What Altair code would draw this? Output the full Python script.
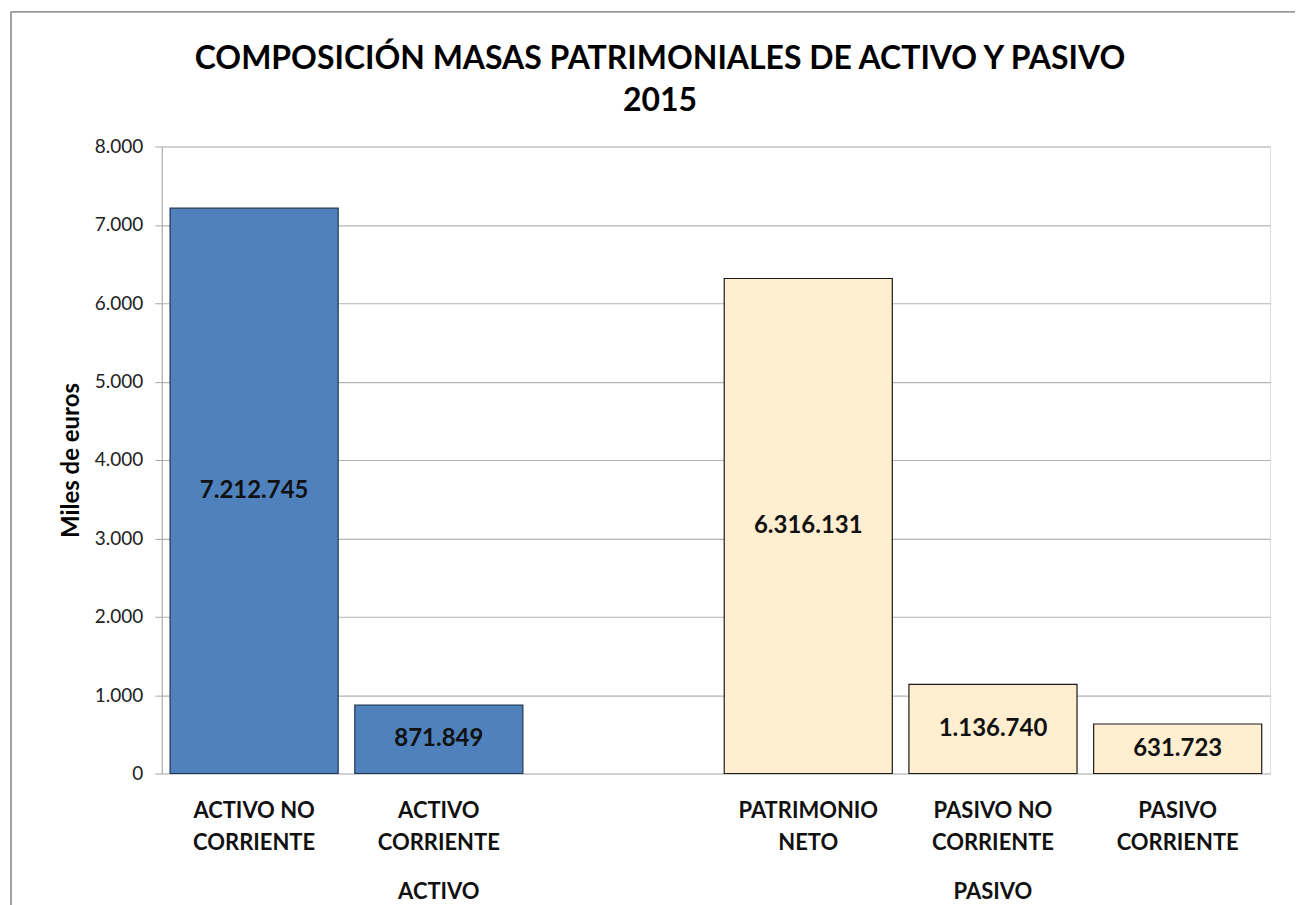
import altair as alt
import pandas as pd

categories = ["ACTIVO NO CORRIENTE", "ACTIVO CORRIENTE", "PATRIMONIO NETO",
              "PASIVO NO CORRIENTE", "PASIVO CORRIENTE"]
cat_labels = ["ACTIVO NO\nCORRIENTE", "ACTIVO\nCORRIENTE", "PATRIMONIO\nNETO",
              "PASIVO NO\nCORRIENTE", "PASIVO\nCORRIENTE"]
groups = ["ACTIVO", "ACTIVO", "PASIVO", "PASIVO", "PASIVO"]
values = [7212745, 871849, 6316131, 1136740, 631723]

group_names = ["ACTIVO", "PASIVO"]
group_anchor = ["ACTIVO CORRIENTE", "PASIVO NO CORRIENTE"]

title_lines = ["COMPOSICIÓN MASAS PATRIMONIALES DE ACTIVO Y PASIVO\n2015"]

x_domain = categories[:2] + [""] + categories[2:]
y_ticks = [0, 1000, 2000, 3000, 4000, 5000, 6000, 7000, 8000]

FONT = "Lato"
W, H = 1110, 628

df = pd.DataFrame({"cat": categories, "label": cat_labels, "group": groups, "value": values})
gdf = pd.DataFrame({"group": group_names, "cat": group_anchor})
tdf = pd.DataFrame({"t": title_lines})

xscale = alt.Scale(domain=x_domain, paddingInner=0.09, paddingOuter=0.045)
yscale = alt.Scale(domain=[0, 8000], nice=False)

base = alt.Chart(df).transform_calculate(
    miles="datum.value / 1000",
    mid="datum.value / 2000",
    txt="replace(replace(format(datum.value, ','), ',', '.'), ',', '.')",
)

bars = base.mark_bar(strokeWidth=1.2).encode(
    x=alt.X("cat:N", scale=xscale, axis=None, sort=x_domain),
    y=alt.Y("miles:Q", scale=yscale,
            axis=alt.Axis(values=y_ticks, title="Miles de euros",
                          labelExpr="replace(format(datum.value, ','), ',', '.')",
                          labelFont=FONT, labelFontSize=19, labelColor="#222222",
                          labelPadding=12, tickSize=7, tickColor="#a6a6a6",
                          domainColor="#a6a6a6", gridColor="#b3b3b3", gridWidth=1.2,
                          titleFont=FONT, titleFontSize=24, titleFontWeight="bold",
                          titleColor="#000000", titleX=-90, titleY=H / 2,
                          titleAngle=-90, titleBaseline="middle", titleAlign="center")),
    color=alt.Color("group:N", scale=alt.Scale(domain=group_names, range=["#4f81bd", "#ffeecf"]),
                    legend=None),
    stroke=alt.Stroke("group:N", scale=alt.Scale(domain=group_names, range=["#1f3553", "#1a1a1a"]),
                      legend=None),
)

vals = base.mark_text(font=FONT, fontSize=24, fontWeight="bold", color="#111111",
                      baseline="middle").encode(
    x=alt.X("cat:N", scale=xscale, sort=x_domain),
    y=alt.Y("mid:Q", scale=yscale),
    text="txt:N",
)

xlabels = alt.Chart(df).mark_text(font=FONT, fontSize=22, fontWeight="bold", color="#111111",
                                  baseline="middle", lineBreak="\n", lineHeight=32).encode(
    x=alt.X("cat:N", scale=xscale, sort=x_domain),
    y=alt.value(H + 38),
    text="label:N",
)

glabels = alt.Chart(gdf).mark_text(font=FONT, fontSize=22, fontWeight="bold", color="#111111",
                                   baseline="middle").encode(
    x=alt.X("cat:N", scale=xscale, sort=x_domain),
    y=alt.value(H + 119),
    text="group:N",
)

title = alt.Chart(tdf).mark_text(font=FONT, fontSize=32, fontWeight="bold", color="#000000",
                                 baseline="middle", align="center", lineBreak="\n",
                                 lineHeight=42).encode(
    x=alt.value(499), y=alt.value(-88), text="t:N")

frame_top = alt.Chart(gdf).mark_rule(color="#9a9a9a", strokeWidth=1.5).encode(
    x=alt.value(-151), x2=alt.value(W + 40), y=alt.value(-135))
frame_left = alt.Chart(gdf).mark_rule(color="#9a9a9a", strokeWidth=1.5).encode(
    x=alt.value(-151), y=alt.value(-135), y2=alt.value(H + 160))

chart = alt.layer(bars, vals, xlabels, glabels, title, frame_top, frame_left).properties(
    width=W, height=H,
    autosize=alt.AutoSizeParams(type="none"),
    padding={"left": 154, "top": 138, "right": 25, "bottom": 150},
).configure_view(stroke=None).configure(background="white")

chart.save("out.html", embed_options={"renderer": "svg", "actions": False})
